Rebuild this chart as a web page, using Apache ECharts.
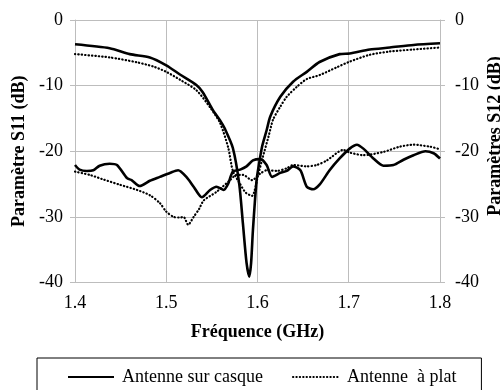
<!DOCTYPE html>
<html>
<head>
<meta charset="utf-8">
<script src="https://cdn.jsdelivr.net/npm/echarts@6/dist/echarts.min.js"></script>
<style>html,body{margin:0;padding:0;background:#fff;}#c{width:500px;height:390px;}</style>
</head>
<body>
<div id="c"></div>
<script>
// Axis ticks
const xTicks = [1.4, 1.5, 1.6, 1.7, 1.8];
const yTicks = [0, -10, -20, -30, -40];
const legendNames = ['Antenne sur casque', 'Antenne  à plat'];

// S11 – antenna on helmet (solid)
const s11HelmetF = [1.400,1.438,1.460,1.482,1.500,1.515,1.533,1.540,1.551,1.559,1.564,1.573,1.580,1.584,1.588,1.591,1.593,1.595,1.599,1.601,1.605,1.610,1.614,1.625,1.639,1.654,1.668,1.690,1.701,1.723,1.745,1.771,1.800];
const s11HelmetV = [-3.7,-4.3,-5.2,-5.7,-6.9,-8.3,-9.9,-11.0,-13.7,-15.3,-16.5,-19.5,-25.0,-31.0,-37.0,-39.1,-37.0,-32.0,-24.4,-22.5,-19.3,-16.8,-14.7,-11.7,-9.4,-7.9,-6.4,-5.2,-5.1,-4.5,-4.2,-3.8,-3.55];

// S11 – flat antenna (dotted)
const s11FlatF = [1.400,1.438,1.468,1.486,1.500,1.515,1.533,1.548,1.559,1.568,1.573,1.581,1.587,1.594,1.601,1.606,1.612,1.617,1.625,1.632,1.643,1.654,1.668,1.687,1.701,1.723,1.745,1.771,1.800];
const s11FlatV = [-5.2,-5.7,-6.45,-7.1,-7.9,-9.1,-10.7,-13.3,-15.7,-19.5,-23.0,-25.0,-26.3,-26.8,-23.4,-20.8,-17.8,-15.2,-13.2,-11.7,-10.2,-9.0,-8.4,-7.2,-6.35,-5.3,-4.8,-4.5,-4.2];

// S12 – antenna on helmet (solid)
const s12HelmetF = [1.400,1.405,1.413,1.420,1.427,1.438,1.446,1.457,1.462,1.471,1.482,1.493,1.504,1.513,1.522,1.530,1.539,1.548,1.555,1.563,1.568,1.573,1.581,1.588,1.595,1.603,1.610,1.616,1.625,1.632,1.639,1.647,1.654,1.661,1.668,1.679,1.690,1.701,1.709,1.716,1.727,1.738,1.749,1.760,1.771,1.784,1.793,1.800];
const s12HelmetV = [-22.1,-22.8,-23.0,-22.9,-22.2,-21.9,-22.1,-24.1,-24.4,-25.3,-24.5,-23.9,-23.3,-22.9,-23.9,-25.4,-27.0,-25.9,-25.4,-25.9,-24.9,-23.1,-22.8,-22.3,-21.4,-21.2,-22.1,-23.9,-23.3,-23.0,-22.3,-22.9,-25.4,-25.8,-25.1,-22.9,-21.1,-19.6,-19.0,-19.6,-21.1,-22.2,-22.1,-21.3,-20.6,-20.0,-20.3,-21.1];

// S12 – flat antenna (dotted)
const s12FlatF = [1.400,1.416,1.431,1.449,1.468,1.482,1.493,1.500,1.508,1.515,1.519,1.524,1.530,1.536,1.541,1.555,1.570,1.577,1.584,1.594,1.603,1.610,1.621,1.632,1.639,1.654,1.665,1.676,1.694,1.701,1.716,1.738,1.756,1.771,1.789,1.800];
const s12FlatV = [-23.1,-23.6,-24.3,-25.1,-25.9,-26.7,-27.9,-29.2,-30.0,-30.1,-30.0,-31.2,-30.0,-28.8,-27.5,-26.2,-24.4,-23.6,-23.6,-24.4,-23.4,-22.9,-23.0,-22.6,-22.1,-22.3,-22.1,-21.4,-19.8,-20.2,-20.6,-20.1,-19.3,-19.0,-19.3,-19.7];

const pairs = (f, v) => f.map((x, i) => [x, v[i]]);
const FONT = 'Liberation Serif';
const GRID = '#bdbdbd';

const solidStyle = { color: '#000', width: 2.6, type: 'solid' };
const dotStyle = { color: '#000', width: 2.2, type: [0.4, 3.0], cap: 'round' };

function mkSeries(name, data, style, yIdx) {
  return {
    type: 'line', name: name, data: data, yAxisIndex: yIdx,
    symbol: 'none', showSymbol: false, smooth: 0.25, lineStyle: style, itemStyle: { color: '#000' },
    emphasis: { disabled: true }, animation: false
  };
}

const yCommon = {
  type: 'value', min: -40, max: 0, interval: 10,
  axisLine: { show: true, lineStyle: { color: GRID, width: 1 } },
  axisTick: { show: true, inside: false, length: 5, lineStyle: { color: GRID } },
  splitLine: { show: true, lineStyle: { color: GRID, width: 1 } },
  axisLabel: { fontFamily: FONT, fontSize: 18, color: '#000' }
};

const chart = echarts.init(document.getElementById('c'), null, { renderer: 'canvas' });
chart.setOption({
  animation: false,
  grid: { left: 75, right: 60, top: 20, bottom: 107.5, containLabel: false },
  xAxis: {
    type: 'value', min: 1.4, max: 1.8, interval: 0.1,
    name: 'Fréquence (GHz)', nameLocation: 'middle', nameGap: 41,
    nameTextStyle: { fontFamily: FONT, fontSize: 18, fontWeight: 'bold', color: '#000' },
    axisLine: { show: true, lineStyle: { color: GRID, width: 1 } },
    axisTick: { show: true, length: 5, lineStyle: { color: GRID } },
    splitLine: { show: true, lineStyle: { color: GRID, width: 1 } },
    axisLabel: { fontFamily: FONT, fontSize: 18, color: '#000', margin: 12,
      formatter: v => { const t = xTicks.find(k => Math.abs(k - v) < 1e-6); return t === undefined ? '' : t.toFixed(1); } }
  },
  yAxis: [
    Object.assign({}, yCommon, {
      position: 'left',
      name: 'Paramètre S11 (dB)', nameLocation: 'middle', nameGap: 46, nameRotate: 90,
      nameTextStyle: { fontFamily: FONT, fontSize: 18, fontWeight: 'bold', color: '#000' },
      axisLabel: Object.assign({}, yCommon.axisLabel, { margin: 12,
        formatter: v => { const t = yTicks.find(k => Math.abs(k - v) < 1e-6); return t === undefined ? '' : String(t); } })
    }),
    Object.assign({}, yCommon, {
      position: 'right', splitLine: { show: false },
      axisLabel: Object.assign({}, yCommon.axisLabel, { margin: 15,
        formatter: v => { const t = yTicks.find(k => Math.abs(k - v) < 1e-6); return t === undefined ? '' : String(t); } })
    })
  ],
  graphic: [{
    type: 'text', x: 495, y: 136, rotation: Math.PI / 2, silent: true,
    style: { text: 'Paramètres S12 (dB)', fontFamily: FONT, fontSize: 18, fontWeight: 'bold', fill: '#000',
      align: 'center', verticalAlign: 'middle' }
  }],
  legend: {
    data: legendNames, left: 37, top: 358, orient: 'horizontal',
    itemWidth: 46, itemHeight: 14, itemGap: 29,
    borderColor: '#000', borderWidth: 1, padding: [10, 25, 20, 30],
    itemStyle: { opacity: 0 },
    textStyle: { fontFamily: FONT, fontSize: 18, color: '#000', padding: [0, 0, 0, 3] },
    selectedMode: false
  },
  series: [
    mkSeries(legendNames[0], pairs(s11HelmetF, s11HelmetV), solidStyle, 0),
    mkSeries(legendNames[1], pairs(s11FlatF, s11FlatV), dotStyle, 0),
    mkSeries(legendNames[0], pairs(s12HelmetF, s12HelmetV), solidStyle, 1),
    mkSeries(legendNames[1], pairs(s12FlatF, s12FlatV), dotStyle, 1)
  ]
});
</script>
</body>
</html>
